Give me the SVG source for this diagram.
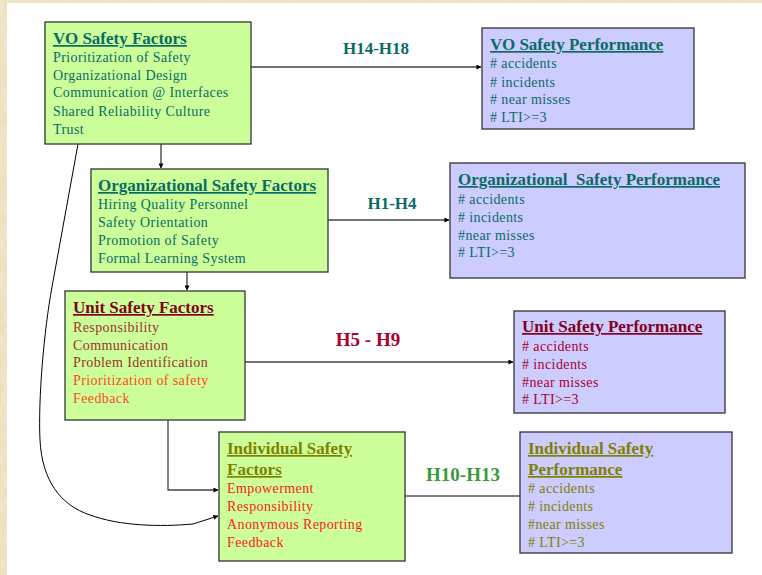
<svg xmlns="http://www.w3.org/2000/svg" width="762" height="575" viewBox="0 0 762 575">
  <defs>
    <filter id="grain" x="0" y="0" width="100%" height="100%">
      <feTurbulence type="fractalNoise" baseFrequency="0.35 0.08" numOctaves="3" seed="4" result="n"/>
      <feColorMatrix in="n" type="matrix" values="0 0 0 0 0.90  0 0 0 0 0.84  0 0 0 0 0.68  0 0 0 -0.9 1.05"/>
    </filter>
    <marker id="arrow" viewBox="0 0 6 6" refX="5.5" refY="3" markerWidth="5" markerHeight="5" orient="auto" markerUnits="userSpaceOnUse">
      <path d="M0,0 L6,3 L0,6 Z" fill="#000"/>
    </marker>
  </defs>
  <style>
    .factor { fill: #ccff99; stroke: #333; stroke-width: 1.3; }
    .perf { fill: #ccccff; stroke: #333; stroke-width: 1.3; }
    text { font-family: "Liberation Serif", "Times New Roman", serif; font-size: 14px; letter-spacing: 0.4px; }
    .title { font-size: 17px; font-weight: bold; text-decoration: underline; letter-spacing: 0; }
    .hyp { font-size: 17px; font-weight: bold; letter-spacing: 0; }
    .big { font-size: 19px; }
    .teal { fill: #0a6b64; }
    .maroon { fill: #800020; }
    .rust { fill: #993333; }
    .orange { fill: #ff4a1c; }
    .olive { fill: #808000; }
    .red { fill: #ff1a1a; }
    .crimson { fill: #a8002c; }
    .green { fill: #3a9a3a; }
    .conn { fill: none; stroke: #000; stroke-width: 1; }
    .connh { fill: none; stroke: #444; stroke-width: 1.3; }
  </style>

  <!-- parchment background with white slide area -->
  <rect x="0" y="0" width="762" height="575" fill="#e8dbb4"/>
  <rect x="0" y="0" width="762" height="575" filter="url(#grain)" opacity="0.8"/>
  <rect x="7" y="3" width="755" height="572" fill="#ffffff"/>

  <!-- connectors -->
  <g id="connectors">
    <line class="connh" x1="251" y1="67" x2="481" y2="67" marker-end="url(#arrow)"/>
    <line class="connh" x1="328" y1="220" x2="449" y2="220" marker-end="url(#arrow)"/>
    <line class="connh" x1="245" y1="362" x2="513" y2="362" marker-end="url(#arrow)"/>
    <line class="conn" x1="405" y1="496" x2="527" y2="496" marker-end="url(#arrow)"/>
    <line class="conn" x1="161" y1="144" x2="161" y2="168" marker-end="url(#arrow)"/>
    <line class="conn" x1="187" y1="272" x2="187" y2="290" marker-end="url(#arrow)"/>
    <path class="connh" d="M168,420 L168,490 L218,490" marker-end="url(#arrow)"/>
    <path class="conn" d="M78,144 L52,287 C44,330 38,400 40,440 C42,480 60,505 90,515 C120,526 160,527 193,524 L218,516" marker-end="url(#arrow)"/>
    <text class="hyp teal" x="376" y="54" text-anchor="middle">H14-H18</text>
    <text class="hyp teal" x="392" y="209" text-anchor="middle">H1-H4</text>
    <text class="hyp big crimson" x="368" y="346" text-anchor="middle">H5 - H9</text>
    <text class="hyp big green" x="463" y="481" text-anchor="middle">H10-H13</text>
  </g>

  <g id="vo-factors">
    <rect class="factor" x="45" y="22" width="206" height="122"/>
    <text class="title teal" x="53" y="44">VO Safety Factors</text>
    <text class="teal" x="53" y="62">Prioritization of Safety</text>
    <text class="teal" x="53" y="80">Organizational Design</text>
    <text class="teal" x="53" y="97">Communication @ Interfaces</text>
    <text class="teal" x="53" y="116">Shared Reliability Culture</text>
    <text class="teal" x="53" y="134">Trust</text>
  </g>

  <g id="org-factors">
    <rect class="factor" x="91" y="169" width="237" height="103"/>
    <text class="title teal" x="98" y="191">Organizational Safety Factors</text>
    <text class="teal" x="98" y="209">Hiring Quality Personnel</text>
    <text class="teal" x="98" y="227">Safety Orientation</text>
    <text class="teal" x="98" y="245">Promotion of Safety</text>
    <text class="teal" x="98" y="263">Formal Learning System</text>
  </g>

  <g id="unit-factors">
    <rect class="factor" x="65" y="291" width="180" height="129"/>
    <text class="title maroon" x="73" y="313">Unit Safety Factors</text>
    <text class="rust" x="73" y="332">Responsibility</text>
    <text class="rust" x="73" y="350">Communication</text>
    <text class="rust" x="73" y="367">Problem Identification</text>
    <text class="orange" x="73" y="385">Prioritization of safety</text>
    <text class="orange" x="73" y="403">Feedback</text>
  </g>

  <g id="individual-factors">
    <rect class="factor" x="219" y="432" width="186" height="129"/>
    <text class="title olive" x="227" y="454">Individual Safety</text>
    <text class="title olive" x="227" y="475">Factors</text>
    <text class="red" x="227" y="493">Empowerment</text>
    <text class="red" x="227" y="511">Responsibility</text>
    <text class="red" x="227" y="529">Anonymous Reporting</text>
    <text class="red" x="227" y="547">Feedback</text>
  </g>

  <g id="vo-performance">
    <rect class="perf" x="482" y="28" width="212" height="101"/>
    <text class="title teal" x="490" y="50">VO Safety Performance</text>
    <text class="teal" x="490" y="68"># accidents</text>
    <text class="teal" x="490" y="87"># incidents</text>
    <text class="teal" x="490" y="104"># near misses</text>
    <text class="teal" x="490" y="122"># LTI&gt;=3</text>
  </g>

  <g id="org-performance">
    <rect class="perf" x="450" y="163" width="295" height="115"/>
    <text class="title teal" x="458" y="185" xml:space="preserve">Organizational  Safety Performance</text>
    <text class="teal" x="458" y="204"># accidents</text>
    <text class="teal" x="458" y="222"># incidents</text>
    <text class="teal" x="458" y="240">#near misses</text>
    <text class="teal" x="458" y="257"># LTI&gt;=3</text>
  </g>

  <g id="unit-performance">
    <rect class="perf" x="514" y="311" width="211" height="102"/>
    <text class="title maroon" x="522" y="332">Unit Safety Performance</text>
    <text class="crimson" x="522" y="351"># accidents</text>
    <text class="crimson" x="522" y="369"># incidents</text>
    <text class="crimson" x="522" y="387">#near misses</text>
    <text class="crimson" x="522" y="404"># LTI&gt;=3</text>
  </g>

  <g id="individual-performance">
    <rect class="perf" x="520" y="432" width="212" height="121"/>
    <text class="title olive" x="528" y="454">Individual Safety</text>
    <text class="title olive" x="528" y="475">Performance</text>
    <text class="olive" x="528" y="493"># accidents</text>
    <text class="olive" x="528" y="511"># incidents</text>
    <text class="olive" x="528" y="529">#near misses</text>
    <text class="olive" x="528" y="547"># LTI&gt;=3</text>
  </g>
</svg>
